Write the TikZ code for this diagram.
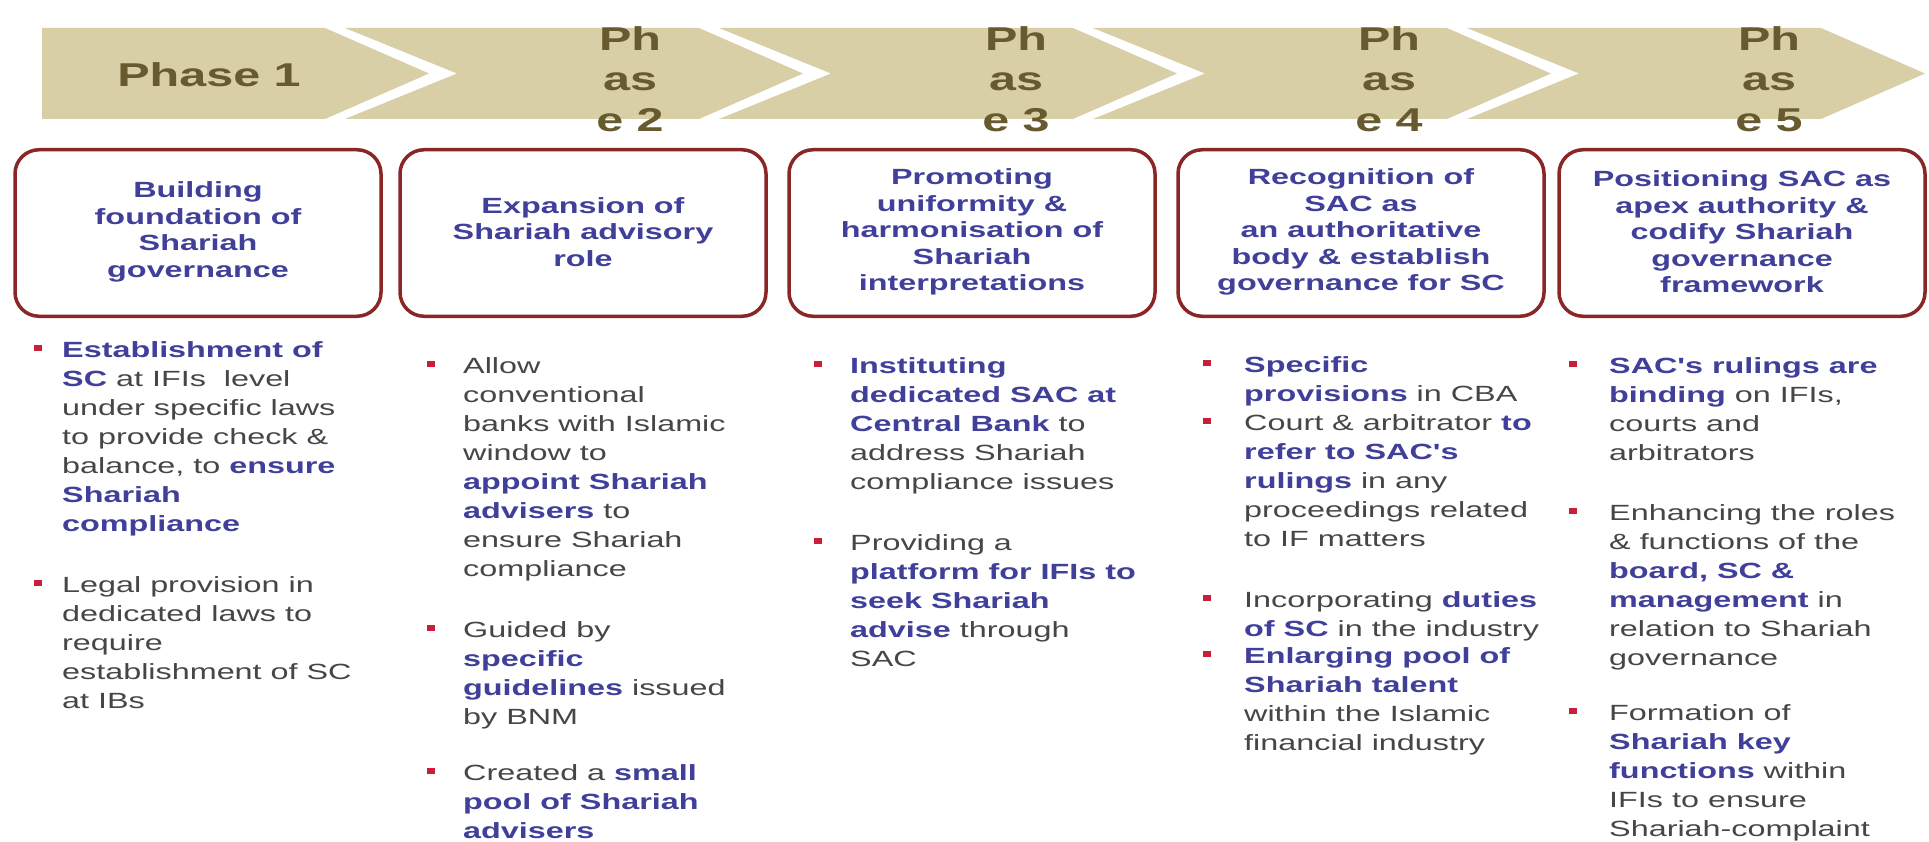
\documentclass[tikz,border=0pt]{standalone}
\usepackage{fontspec}
\newfontfamily\widesans[FakeStretch=1.47]{Liberation Sans}
\definecolor{chevfill}{HTML}{D8CFA6}
\definecolor{phaseink}{HTML}{665A2E}
\definecolor{boxred}{HTML}{8B2626}
\definecolor{titleblue}{HTML}{40409A}
\definecolor{bodygray}{HTML}{464646}
\definecolor{bulletred}{HTML}{C8203A}
\newcommand{\kw}[1]{{\bfseries\color{titleblue}#1}}
\begin{document}
\begin{tikzpicture}[x=1pt,y=-1pt,
  chev/.style={fill=chevfill,draw=none},
  phasetxt/.style={font=\widesans\bfseries\fontsize{33}{40.5}\selectfont,text=phaseink,align=center,inner sep=0pt},
  stagebox/.style={draw=boxred,line width=3.5pt,rounded corners=24pt,fill=white,minimum width=366pt,minimum height=166.5pt,inner sep=0pt},
  stagetxt/.style={font=\widesans\bfseries\fontsize{22}{26.5}\selectfont,text=titleblue,align=center,inner sep=0pt},
  itemtxt/.style={font=\widesans\fontsize{22}{29}\selectfont,text=bodygray,align=left,anchor=north west,inner sep=0pt,execute at begin node=\strut},
  bulletsq/.style={fill=bulletred,minimum width=8pt,minimum height=6.5pt,inner sep=0pt}]
\fill[white] (0,0) rectangle (1929,842);
\useasboundingbox (0,0) rectangle (1929,842);

% phase chevrons along the top band
\fill[chev] (42,28) -- (325,28) -- (429,73.5) -- (325,119) -- (42,119) -- cycle;
\foreach \k in {2,...,5}{
  \pgfmathsetmacro{\R}{325+374*(\k-1)}
  \pgfmathsetmacro{\L}{325+374*(\k-2)+20}
  \fill[chev] (\L,28) -- (\R,28) -- (\R+104,73.5) -- (\R,119) -- (\L,119) -- (\L+112,73.5) -- cycle;
}
\node[phasetxt] (p1) at (209,75) {Phase 1};
\node[phasetxt] (p2) at (630,79) {Ph\\as\\e 2};
\node[phasetxt] (p3) at (1016,79) {Ph\\as\\e 3};
\node[phasetxt] (p4) at (1389,79) {Ph\\as\\e 4};
\node[phasetxt] (p5) at (1769,79) {Ph\\as\\e 5};

% stage boxes
\node[stagebox] (b1) at (198,233) {};
\node[stagebox] (b2) at (583,233) {};
\node[stagebox] (b3) at (972,233) {};
\node[stagebox] (b4) at (1361,233) {};
\node[stagebox] (b5) at (1742,233) {};
\node[stagetxt] (t1) at ([yshift=1pt]b1.center) {Building\\foundation of\\Shariah\\governance};
\node[stagetxt] (t2) at ([yshift=1pt]b2.center) {Expansion of\\Shariah advisory\\role};
\node[stagetxt] (t3) at ([yshift=1pt]b3.center) {Promoting\\uniformity \&\\harmonisation of\\Shariah\\interpretations};
\node[stagetxt] (t4) at ([yshift=1pt]b4.center) {Recognition of\\SAC as\\an authoritative\\body \& establish\\governance for SC};
\node[stagetxt] (t5) at ([yshift=1pt]b5.center) {Positioning SAC as\\apex authority \&\\codify Shariah\\governance\\framework};

% column 1
\node[bulletsq] (m1a) at (38,348) {};
\node[itemtxt] (i1a) at (62,341.7) {\kw{Establishment of}\\\kw{SC} at IFIs\ \ level\\under specific laws\\to provide check \&\\balance, to \kw{ensure}\\\kw{Shariah}\\\kw{compliance}};
\node[bulletsq] (m1b) at (38,583) {};
\node[itemtxt] (i1b) at (62,576.7) {Legal provision in\\dedicated laws to\\require\\establishment of SC\\at IBs};

% column 2
\node[bulletsq] (m2a) at (431,364) {};
\node[itemtxt] (i2a) at (463,357.7) {Allow\\conventional\\banks with Islamic\\window to\\\kw{appoint Shariah}\\\kw{advisers} to\\ensure Shariah\\compliance};
\node[bulletsq] (m2b) at (431,628) {};
\node[itemtxt] (i2b) at (463,621.7) {Guided by\\\kw{specific}\\\kw{guidelines} issued\\by BNM};
\node[bulletsq] (m2c) at (431,771) {};
\node[itemtxt] (i2c) at (463,764.7) {Created a \kw{small}\\\kw{pool of Shariah}\\\kw{advisers}};

% column 3
\node[bulletsq] (m3a) at (818,364) {};
\node[itemtxt] (i3a) at (850,357.7) {\kw{Instituting}\\\kw{dedicated SAC at}\\\kw{Central Bank} to\\address Shariah\\compliance issues};
\node[bulletsq] (m3b) at (818,541) {};
\node[itemtxt] (i3b) at (850,534.7) {Providing a\\\kw{platform for IFIs to}\\\kw{seek Shariah}\\\kw{advise} through\\SAC};

% column 4
\node[bulletsq] (m4a) at (1207,363) {};
\node[itemtxt] (i4a) at (1244,356.7) {\kw{Specific}\\\kw{provisions} in CBA};
\node[bulletsq] (m4b) at (1207,421) {};
\node[itemtxt] (i4b) at (1244,414.7) {Court \& arbitrator \kw{to}\\\kw{refer to SAC's}\\\kw{rulings} in any\\proceedings related\\to IF matters};
\node[bulletsq] (m4c) at (1207,598) {};
\node[itemtxt] (i4c) at (1244,591.7) {Incorporating \kw{duties}\\\kw{of SC} in the industry};
\node[bulletsq] (m4d) at (1207,654) {};
\node[itemtxt] (i4d) at (1244,647.7) {\kw{Enlarging pool of}\\\kw{Shariah talent}\\within the Islamic\\financial industry};

% column 5
\node[bulletsq] (m5a) at (1573,364) {};
\node[itemtxt] (i5a) at (1609,357.7) {\kw{SAC's rulings are}\\\kw{binding} on IFIs,\\courts and\\arbitrators};
\node[bulletsq] (m5b) at (1573,511) {};
\node[itemtxt] (i5b) at (1609,504.7) {Enhancing the roles\\\& functions of the\\\kw{board, SC \&}\\\kw{management} in\\relation to Shariah\\governance};
\node[bulletsq] (m5c) at (1573,711) {};
\node[itemtxt] (i5c) at (1609,704.7) {Formation of\\\kw{Shariah key}\\\kw{functions} within\\IFIs to ensure\\Shariah-complaint};
\end{tikzpicture}
\end{document}
